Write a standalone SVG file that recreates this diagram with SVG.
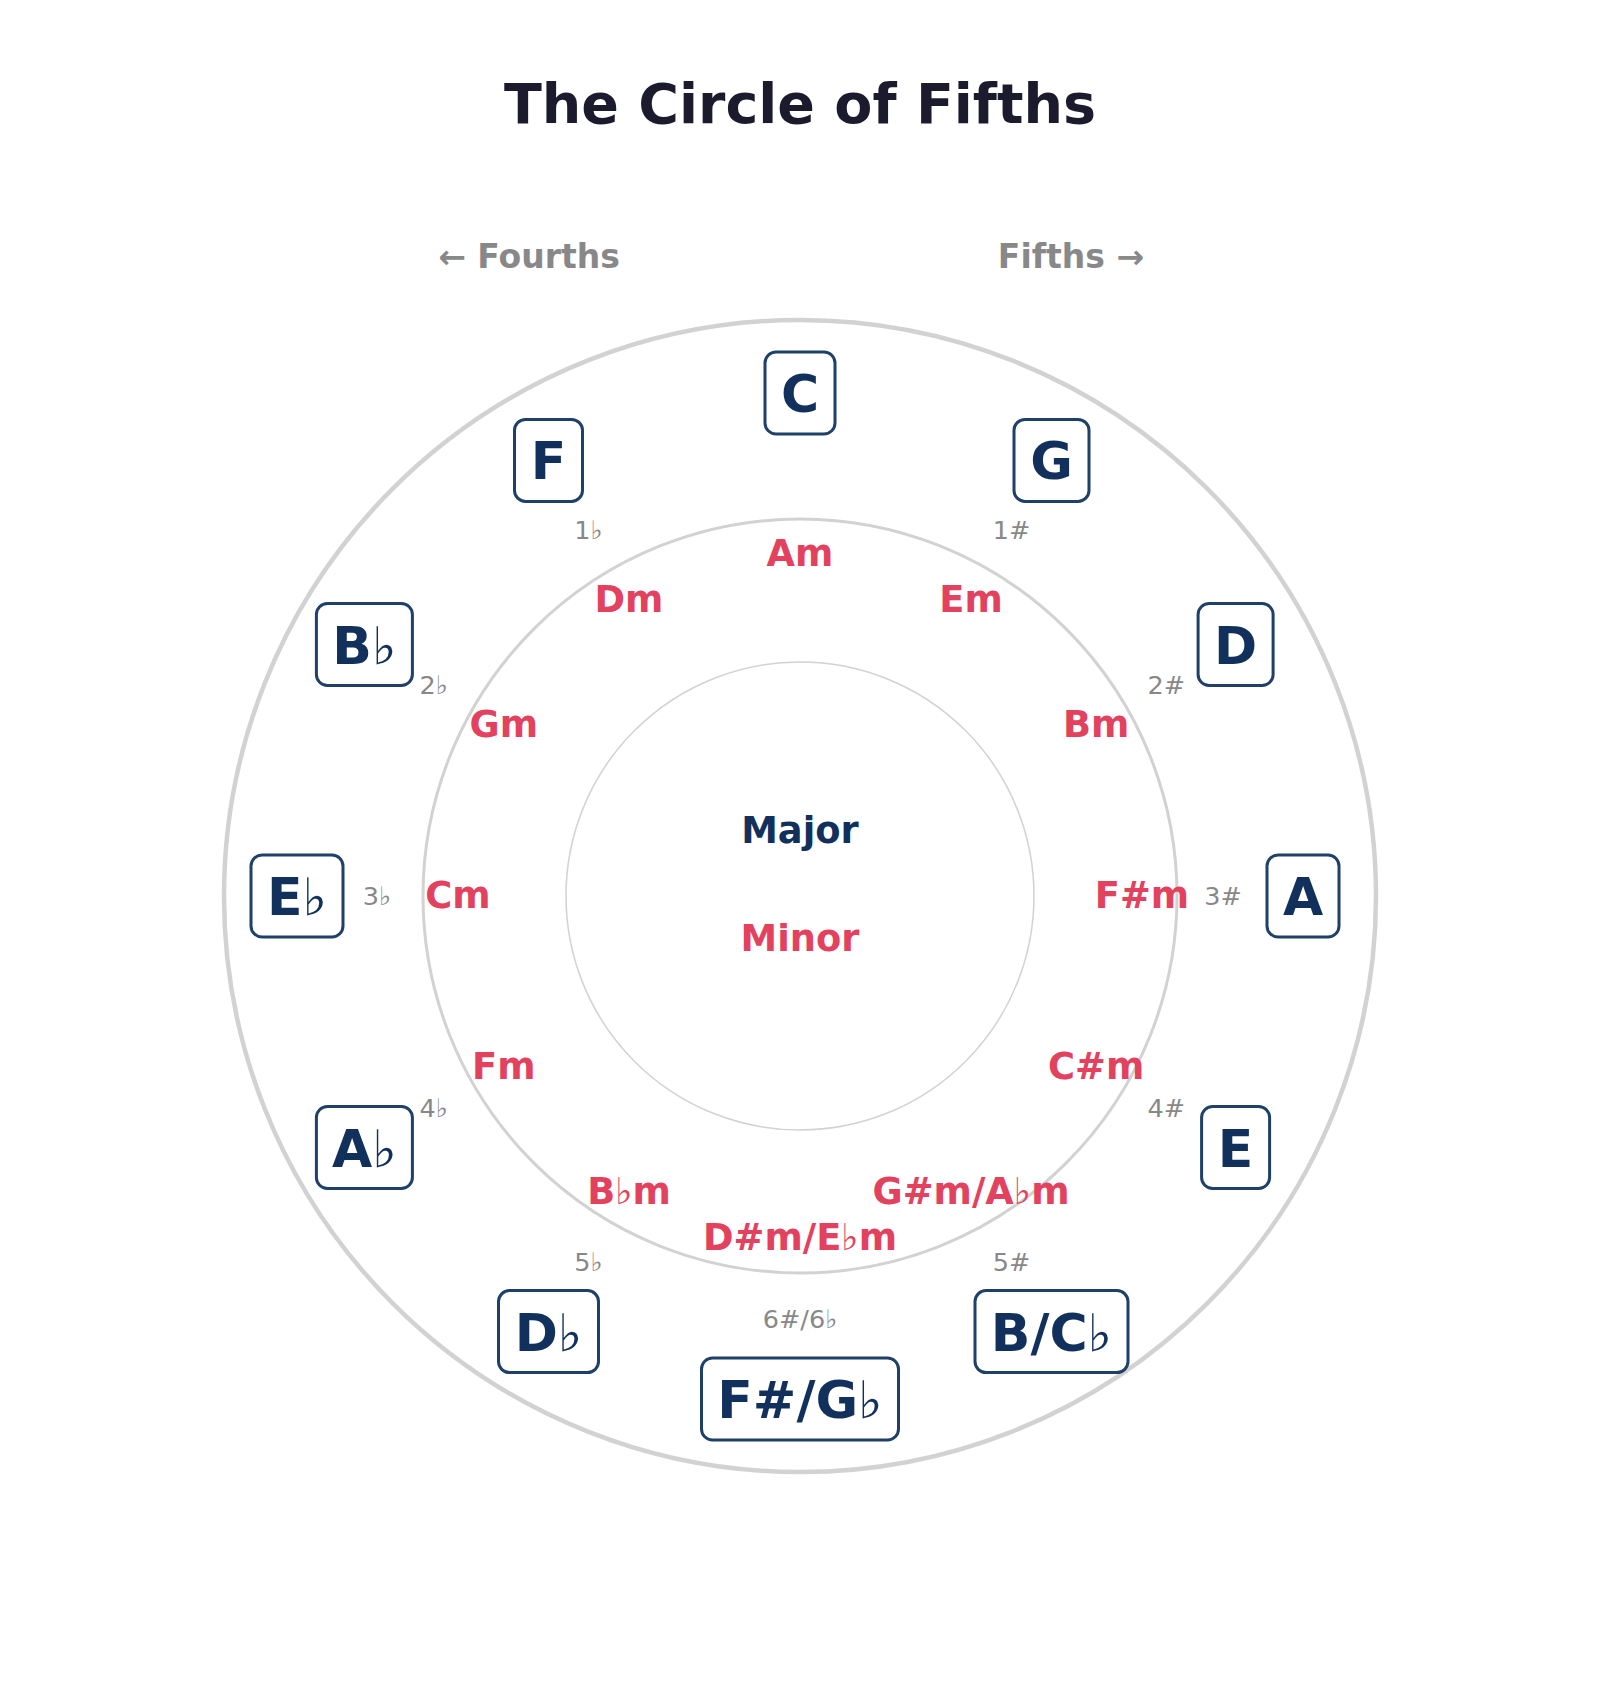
<svg xmlns="http://www.w3.org/2000/svg" width="1600" height="1697" viewBox="0 0 1600 1697">
<style>
text{font-family:"DejaVu Sans","Liberation Sans",sans-serif;font-weight:bold;text-anchor:middle}
.title{font-size:55.5px;fill:#1c1b2e}
.dir{font-size:33px;fill:#888888}
.ring{fill:none;stroke:#d2d2d2}
.box{fill:#ffffff;stroke:#1f4068;stroke-width:3}
.maj{font-size:52px;fill:#11315c}
.min{font-size:36.8px;fill:#e3425f}
.sig{font-size:25.5px;fill:#888888;font-weight:normal}
.cmaj{font-size:36.8px;fill:#11315c}
.cmin{font-size:36.8px;fill:#e3425f}
</style>
<rect width="1600" height="1697" fill="#ffffff"/>
<text class="title" x="800" y="123">The Circle of Fifths</text>
<text class="dir" x="529" y="268">← Fourths</text>
<text class="dir" x="1071" y="268">Fifths →</text>
<g id="rings">
<circle class="ring" cx="800" cy="896" r="576" stroke-width="4.5"/>
<circle class="ring" cx="800" cy="896" r="377" stroke-width="3"/>
<circle class="ring" cx="800" cy="896" r="234" stroke-width="1.5"/>
</g>
<g id="center">
<text class="cmaj" x="800" y="843">Major</text>
<text class="cmin" x="800" y="951">Minor</text>
</g>
<g id="major-keys">
<g id="key-C"><rect class="box" x="765" y="352" width="70" height="82" rx="11"/><text class="maj" x="800" y="412">C</text></g>
<g id="key-G"><rect class="box" x="1014" y="419.4" width="75" height="82" rx="11"/><text class="maj" x="1051.5" y="479.4">G</text></g>
<g id="key-D"><rect class="box" x="1198.1" y="603.5" width="75" height="82" rx="11"/><text class="maj" x="1235.6" y="663.5">D</text></g>
<g id="key-A"><rect class="box" x="1267" y="855" width="72" height="82" rx="11"/><text class="maj" x="1303" y="915">A</text></g>
<g id="key-E"><rect class="box" x="1201.6" y="1106.5" width="68" height="82" rx="11"/><text class="maj" x="1235.6" y="1166.5">E</text></g>
<g id="key-B"><rect class="box" x="975" y="1290.6" width="153" height="82" rx="11"/><text class="maj" x="1051.5" y="1350.6">B/C♭</text></g>
<g id="key-Fs"><rect class="box" x="701.5" y="1358" width="197" height="82" rx="11"/><text class="maj" x="800" y="1418">F#/G♭</text></g>
<g id="key-Db"><rect class="box" x="498.5" y="1290.6" width="100" height="82" rx="11"/><text class="maj" x="548.5" y="1350.6">D♭</text></g>
<g id="key-Ab"><rect class="box" x="316.4" y="1106.5" width="96" height="82" rx="11"/><text class="maj" x="364.4" y="1166.5">A♭</text></g>
<g id="key-Eb"><rect class="box" x="251" y="855" width="92" height="82" rx="11"/><text class="maj" x="297" y="915">E♭</text></g>
<g id="key-Bb"><rect class="box" x="316.4" y="603.5" width="96" height="82" rx="11"/><text class="maj" x="364.4" y="663.5">B♭</text></g>
<g id="key-F"><rect class="box" x="514.5" y="419.4" width="68" height="82" rx="11"/><text class="maj" x="548.5" y="479.4">F</text></g>
</g>
<g id="minor-keys">
<text id="min-Am" class="min" x="800" y="566">Am</text>
<text id="min-Em" class="min" x="971" y="611.8">Em</text>
<text id="min-Bm" class="min" x="1096.2" y="737">Bm</text>
<text id="min-Fsm" class="min" x="1142" y="908">F#m</text>
<text id="min-Csm" class="min" x="1096.2" y="1079">C#m</text>
<text id="min-Gsm" class="min" x="971" y="1204.2">G#m/A♭m</text>
<text id="min-Dsm" class="min" x="800" y="1250">D#m/E♭m</text>
<text id="min-Bbm" class="min" x="629" y="1204.2">B♭m</text>
<text id="min-Fm" class="min" x="503.8" y="1079">Fm</text>
<text id="min-Cm" class="min" x="458" y="908">Cm</text>
<text id="min-Gm" class="min" x="503.8" y="737">Gm</text>
<text id="min-Dm" class="min" x="629" y="611.8">Dm</text>
</g>
<g id="signatures">
<text class="sig" x="1011.5" y="538.7">1#</text>
<text class="sig" x="1166.3" y="693.5">2#</text>
<text class="sig" x="1223" y="905">3#</text>
<text class="sig" x="1166.3" y="1116.5">4#</text>
<text class="sig" x="1011.5" y="1271.3">5#</text>
<text class="sig" x="800" y="1328">6#/6♭</text>
<text class="sig" x="588.5" y="1271.3">5♭</text>
<text class="sig" x="433.7" y="1116.5">4♭</text>
<text class="sig" x="377" y="905">3♭</text>
<text class="sig" x="433.7" y="693.5">2♭</text>
<text class="sig" x="588.5" y="538.7">1♭</text>
</g>
</svg>
